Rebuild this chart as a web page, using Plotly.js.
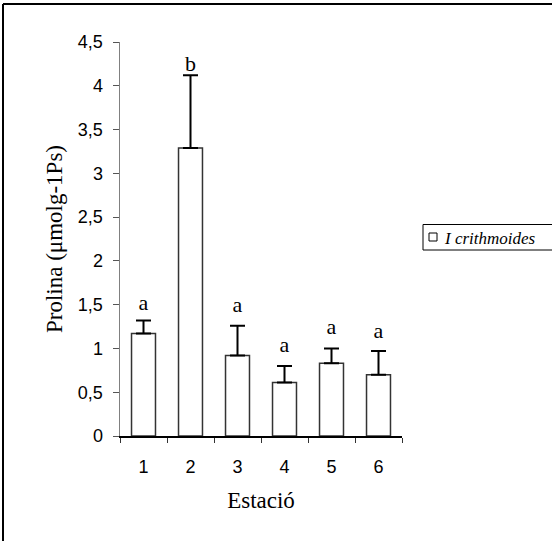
<!DOCTYPE html>
<html>
<head>
<meta charset="utf-8">
<script src="https://cdn.plot.ly/plotly-3.0.1.min.js"></script>
<style>
html,body{margin:0;padding:0;background:#fff;overflow:hidden;}
#chart{width:552px;height:541px;}
</style>
</head>
<body>
<div id="chart"></div>
<script>
// Data
const stations = ['1', '2', '3', '4', '5', '6'];
const prolina = [1.17, 3.29, 0.92, 0.61, 0.83, 0.70];
const errorPlus = [0.15, 0.83, 0.34, 0.19, 0.17, 0.27];
const letters = ['a', 'b', 'a', 'a', 'a', 'a'];
const letterY = [1.50, 4.23, 1.48, 1.02, 1.23, 1.18];
const yTickVals = [0, 0.5, 1, 1.5, 2, 2.5, 3, 3.5, 4, 4.5];
const yTickText = ['0', '0,5', '1', '1,5', '2', '2,5', '3', '3,5', '4', '4,5'];
const seriesName = 'I crithmoides';

const W = 552, H = 541;
const L = 120, R = 402, T = 42, B = 436;
const px = x => (x - L) / (R - L);
const py = y => (B - y) / (B - T);
const SERIF = 'Liberation Serif, Times New Roman, serif';
const SANS = 'Liberation Sans, Arial, sans-serif';

const traces = [
  {
    type: 'bar',
    x: stations,
    y: prolina,
    name: seriesName,
    marker: {color: '#ffffff', line: {color: '#333333', width: 1.5}},
    error_y: {type: 'data', array: errorPlus, arrayminus: stations.map(() => 0), symmetric: false,
              color: '#000000', thickness: 2, width: 7.5},
    showlegend: false,
    hoverinfo: 'skip'
  },
  {
    type: 'scatter',
    mode: 'text',
    x: stations,
    y: letterY,
    text: letters,
    textposition: 'middle center',
    textfont: {family: SERIF, size: 22, color: '#000'},
    showlegend: false,
    hoverinfo: 'skip'
  }
];

const layout = {
  width: W, height: H,
  margin: {l: L, r: W - R, t: T, b: H - B, pad: 0, autoexpand: false},
  paper_bgcolor: '#ffffff',
  plot_bgcolor: '#ffffff',
  separators: ',.',
  bargap: 0.49,
  showlegend: false,
  xaxis: {
    type: 'category',
    range: [-0.5, 5.5],
    showgrid: false, zeroline: false,
    showline: true, linecolor: '#000000', linewidth: 1.5,
    ticks: 'outside', tickson: 'boundaries', ticklen: 5, tickcolor: '#333', tickwidth: 1,
    ticklabelstandoff: 14,
    tickfont: {family: SANS, size: 18, color: '#000'},
    title: {text: 'Estació', font: {family: SERIF, size: 23, color: '#000'}, standoff: 16},
    fixedrange: true
  },
  yaxis: {
    range: [0, 4.5],
    tickvals: yTickVals, ticktext: yTickText,
    showgrid: false, zeroline: false,
    showline: true, linecolor: '#808080', linewidth: 1.5,
    ticks: 'outside', ticklen: 6, tickcolor: '#555', tickwidth: 1,
    ticklabelstandoff: 6,
    tickfont: {family: SANS, size: 18, color: '#000'},
    title: {text: 'Prolina (μmolg-1Ps)', font: {family: SERIF, size: 23, color: '#000'}, standoff: 9},
    fixedrange: true
  },
  shapes: [
    // outer frame
    {type: 'line', xref: 'paper', yref: 'paper', x0: px(3), x1: px(620), y0: py(4), y1: py(4), line: {color: '#000', width: 2}},
    {type: 'line', xref: 'paper', yref: 'paper', x0: px(3), x1: px(3), y0: py(4), y1: py(620), line: {color: '#000', width: 2}},
    // legend box
    {type: 'rect', xref: 'paper', yref: 'paper', x0: px(423), x1: px(620), y0: py(250), y1: py(224.5), line: {color: '#000', width: 1}, fillcolor: '#fff'},
    // legend key
    {type: 'rect', xref: 'paper', yref: 'paper', x0: px(429), x1: px(437), y0: py(241), y1: py(233), line: {color: '#000', width: 1}, fillcolor: '#fff'}
  ],
  annotations: [
    {xref: 'paper', yref: 'paper', x: px(442), y: py(238), xanchor: 'left', yanchor: 'middle',
     text: '<i>' + seriesName + '</i>', showarrow: false,
     font: {family: SERIF, size: 17, color: '#000'}}
  ]
};

Plotly.newPlot('chart', traces, layout, {displayModeBar: false, staticPlot: true});
</script>
</body>
</html>
